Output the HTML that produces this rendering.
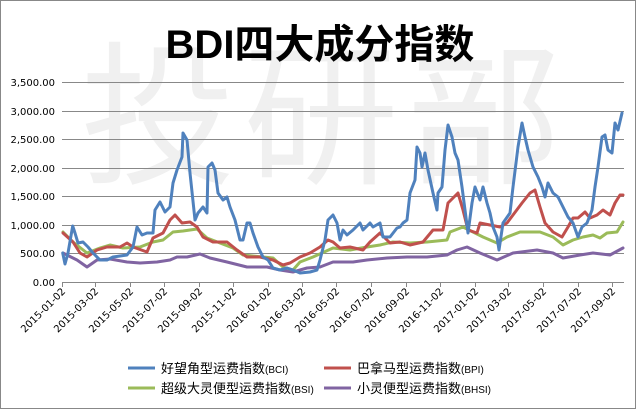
<!DOCTYPE html>
<html><head><meta charset="utf-8"><style>
html,body{margin:0;padding:0;background:#fff}
svg{display:block}
</style></head><body>
<svg width="637" height="410" viewBox="0 0 637 410" xmlns="http://www.w3.org/2000/svg" font-family="Liberation Sans, Noto Sans CJK SC, sans-serif">
<rect x="0.5" y="0.5" width="635" height="408" fill="#fff" stroke="#888"/>
<text x="325" y="172" text-anchor="middle" font-size="155" fill="#f0f0f0" font-family="Noto Sans CJK SC, sans-serif" letter-spacing="8">投研部</text>
<text x="320" y="58" text-anchor="middle" font-size="40" font-weight="bold" fill="#000" font-family="Liberation Sans, Noto Sans CJK SC, sans-serif">BDI四大成分指数</text>
<g stroke="#888" stroke-width="1">
<line x1="62" y1="82.5" x2="624" y2="82.5"/>
<line x1="62" y1="111.5" x2="624" y2="111.5"/>
<line x1="62" y1="139.5" x2="624" y2="139.5"/>
<line x1="62" y1="168.5" x2="624" y2="168.5"/>
<line x1="62" y1="196.5" x2="624" y2="196.5"/>
<line x1="62" y1="225.5" x2="624" y2="225.5"/>
<line x1="62" y1="253.5" x2="624" y2="253.5"/>
<line x1="62" y1="282.5" x2="624" y2="282.5"/>
<line x1="62.5" y1="282" x2="62.5" y2="287"/>
<line x1="95.5" y1="282" x2="95.5" y2="287"/>
<line x1="130.5" y1="282" x2="130.5" y2="287"/>
<line x1="164.5" y1="282" x2="164.5" y2="287"/>
<line x1="199.5" y1="282" x2="199.5" y2="287"/>
<line x1="233.5" y1="282" x2="233.5" y2="287"/>
<line x1="268.5" y1="282" x2="268.5" y2="287"/>
<line x1="302.5" y1="282" x2="302.5" y2="287"/>
<line x1="336.5" y1="282" x2="336.5" y2="287"/>
<line x1="371.5" y1="282" x2="371.5" y2="287"/>
<line x1="406.5" y1="282" x2="406.5" y2="287"/>
<line x1="440.5" y1="282" x2="440.5" y2="287"/>
<line x1="475.5" y1="282" x2="475.5" y2="287"/>
<line x1="508.5" y1="282" x2="508.5" y2="287"/>
<line x1="543.5" y1="282" x2="543.5" y2="287"/>
<line x1="578.5" y1="282" x2="578.5" y2="287"/>
<line x1="612.5" y1="282" x2="612.5" y2="287"/>
</g>
<g font-size="10" fill="#000" text-anchor="end" font-family="DejaVu Sans, sans-serif">
<text x="55" y="86">3,500.00</text>
<text x="55" y="115">3,000.00</text>
<text x="55" y="143">2,500.00</text>
<text x="55" y="172">2,000.00</text>
<text x="55" y="200">1,500.00</text>
<text x="55" y="229">1,000.00</text>
<text x="55" y="257">500.00</text>
<text x="55" y="286">0.00</text>
</g>
<g font-size="10" fill="#000" text-anchor="end" font-family="DejaVu Sans, sans-serif">
<text transform="translate(66,292) rotate(-45)">2015-01-02</text>
<text transform="translate(99,292) rotate(-45)">2015-03-02</text>
<text transform="translate(134,292) rotate(-45)">2015-05-02</text>
<text transform="translate(168,292) rotate(-45)">2015-07-02</text>
<text transform="translate(203,292) rotate(-45)">2015-09-02</text>
<text transform="translate(237,292) rotate(-45)">2015-11-02</text>
<text transform="translate(272,292) rotate(-45)">2016-01-02</text>
<text transform="translate(306,292) rotate(-45)">2016-03-02</text>
<text transform="translate(340,292) rotate(-45)">2016-05-02</text>
<text transform="translate(375,292) rotate(-45)">2016-07-02</text>
<text transform="translate(410,292) rotate(-45)">2016-09-02</text>
<text transform="translate(444,292) rotate(-45)">2016-11-02</text>
<text transform="translate(479,292) rotate(-45)">2017-01-02</text>
<text transform="translate(512,292) rotate(-45)">2017-03-02</text>
<text transform="translate(547,292) rotate(-45)">2017-05-02</text>
<text transform="translate(582,292) rotate(-45)">2017-07-02</text>
<text transform="translate(616,292) rotate(-45)">2017-09-02</text>
</g>
<g fill="none" stroke-width="3" stroke-linejoin="round" stroke-linecap="round">
<polyline stroke="#8064a2" points="63,253 77,260 87,267 97,260 110,259 127,262 140,263 157,262 170,260 177,257 187,257 200,254 210,258 227,262 247,267 267,267 280,270 293,272 307,268 320,267 333,262 353,262 367,260 387,258 407,257 427,257 447,255 457,250 467,247 480,253 497,260 513,253 537,250 553,253 563,258 580,255 593,253 610,255 623,248"/>
<polyline stroke="#9bbb59" points="63,232 73,242 87,253 100,248 110,245 123,248 140,247 153,242 163,240 173,232 183,231 197,229 207,238 220,243 233,248 243,255 263,257 273,258 283,267 293,270 300,262 313,257 333,248 350,250 367,247 380,245 393,242 410,243 427,242 447,240 450,232 463,227 473,232 483,237 497,243 507,237 520,232 540,232 553,237 563,245 573,240 583,237 593,235 600,238 607,233 617,232 623,222"/>
<polyline stroke="#c0504d" points="63,233 73,242 80,253 87,257 97,250 107,247 120,247 127,243 133,247 147,252 153,238 163,233 170,220 175,215 182,223 190,222 197,227 203,237 213,242 227,242 237,250 247,257 260,257 273,260 283,265 290,263 300,257 310,253 320,247 328,240 333,242 340,248 350,247 363,250 370,242 380,233 390,243 400,242 410,245 423,242 433,230 443,230 448,203 458,193 463,210 468,230 477,233 480,223 490,225 500,227 507,223 513,215 522,203 530,193 535,190 540,207 545,223 553,232 562,237 568,227 573,218 578,218 585,212 590,218 597,215 603,210 610,215 615,203 620,195 623,195"/>
<polyline stroke="#4f81bd" points="62.7,253 65,264 68,253 72.7,226 75,233 78,243 83,242 88,247 93,253 100,260 107,260 113,257 127,255 133,247 137,227 142,235 147,233 153,233 155,210 160,202 165,212 170,207 173,183 177,170 182,157 183,133 187,140 190,173 195,220 198,213 203,207 207,213 208,167 212,163 215,170 218,193 223,200 227,197 230,207 235,220 240,240 243,240 247,223 250,223 253,233 258,247 263,257 268,260 273,268 280,270 287,268 293,270 300,273 310,272 317,270 320,260 325,240 328,220 333,215 337,223 340,240 343,230 347,235 353,230 360,223 363,230 370,223 373,227 380,223 383,237 390,237 397,228 400,227 403,223 407,220 410,193 415,180 417,147 420,153 422,167 425,153 428,170 433,193 437,210 438,193 442,187 445,150 448,125 452,137 455,153 458,160 462,187 465,210 468,233 472,203 475,187 480,200 483,187 487,203 490,213 493,227 497,237 499,250 503,223 510,213 513,187 518,147 522,123 525,137 528,150 533,167 538,177 542,187 545,197 548,183 553,193 558,197 563,207 568,217 573,223 578,237 582,227 587,223 592,210 595,187 598,167 602,137 605,135 608,150 612,153 615,123 618,130 622,113"/>
</g>
<g stroke-width="3">
<line x1="128" y1="368" x2="155" y2="368" stroke="#4f81bd"/>
<line x1="324" y1="368" x2="351" y2="368" stroke="#c0504d"/>
<line x1="128" y1="388" x2="155" y2="388" stroke="#9bbb59"/>
<line x1="324" y1="388" x2="351" y2="388" stroke="#8064a2"/>
</g>
<g font-size="13" fill="#000">
<text x="161" y="373">好望角型运费指数<tspan font-size="10">(BCI)</tspan></text>
<text x="357" y="373">巴拿马型运费指数<tspan font-size="10">(BPI)</tspan></text>
<text x="161" y="393">超级大灵便型运费指数<tspan font-size="10">(BSI)</tspan></text>
<text x="357" y="393">小灵便型运费指数<tspan font-size="10">(BHSI)</tspan></text>
</g>
</svg>
</body></html>
